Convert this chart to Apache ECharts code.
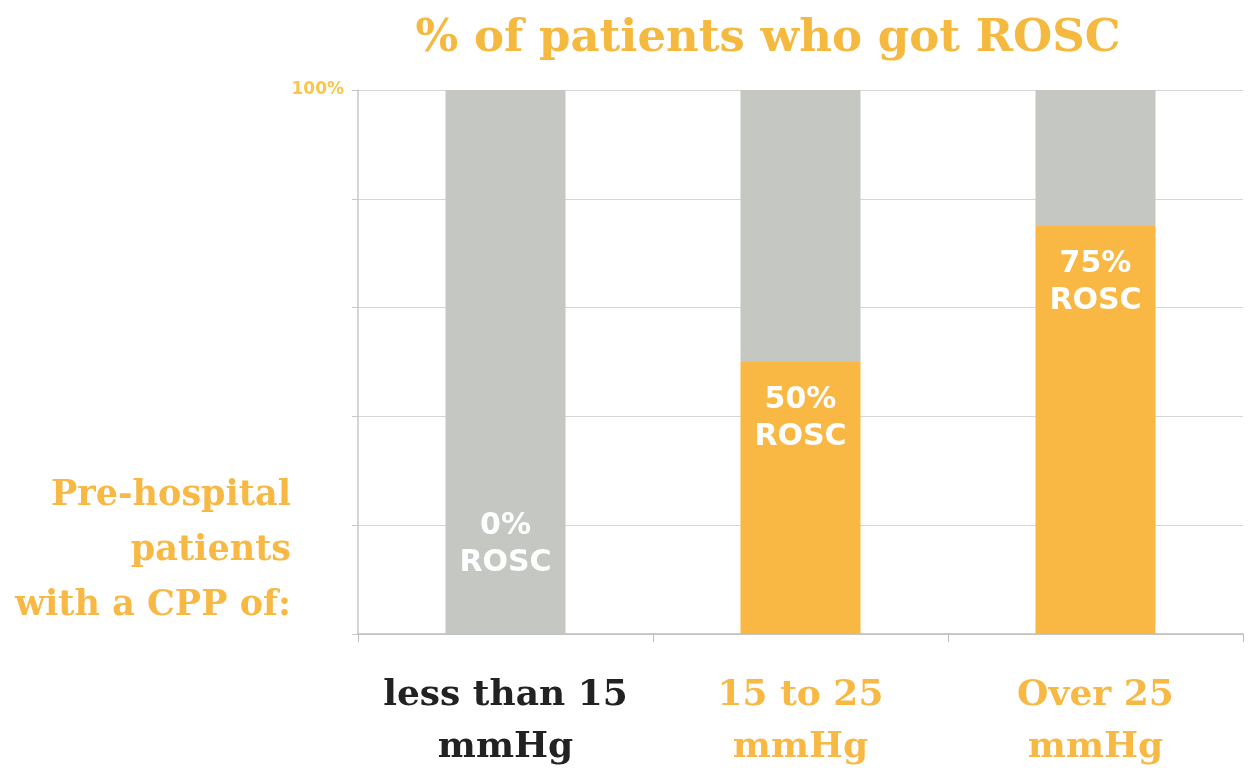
<!DOCTYPE html>
<html>
<head>
<meta charset="utf-8">
<script src="https://cdn.jsdelivr.net/npm/echarts@6/dist/echarts.min.js"></script>
<style>html,body{margin:0;padding:0;background:#fff}#c{width:1249px;height:774px}</style>
</head>
<body>
<div id="c"></div>
<script>
const categories = ['less than 15\nmmHg', '15 to 25\nmmHg', 'Over 25\nmmHg'];
const categoryColors = ['#222222', '#F7B844', '#F7B844'];
const roscValues = [0, 50, 75];
const remainderValues = [100, 50, 25];
const yTickLabels = { 100: '100%' };
const titleText = '% of patients who got ROSC';
const yAxisTitle = 'Pre-hospital\npatients\nwith a CPP of:';

const chart = echarts.init(document.getElementById('c'), null, { renderer: 'canvas' });
const orange = '#F9B744';
const gray = '#C5C7C3';

const option = {
  backgroundColor: '#ffffff',
  animation: false,
  title: {
    text: titleText,
    left: 763,
    top: 12,
    textAlign: 'center',
    textStyle: { fontFamily: 'DejaVu Serif', fontWeight: 'bold', fontSize: 45, color: '#F6B940' }
  },
  graphic: [{
    type: 'text',
    right: 958,
    top: 468,
    style: {
      text: yAxisTitle,
      fontFamily: 'DejaVu Serif', fontWeight: 'bold', fontSize: 35,
      lineHeight: 55, fill: '#F7B844', textAlign: 'right'
    }
  }],
  grid: { left: 358, right: 6, top: 90, bottom: 138 },
  xAxis: {
    type: 'category',
    data: categories.map((c, i) => ({ value: c, textStyle: { color: categoryColors[i] } })),
    axisLine: { lineStyle: { color: '#BDBDBD', width: 1.5 } },
    axisTick: { show: true, interval: 0, length: 8, lineStyle: { color: '#BDBDBD' } },
    axisLabel: {
      interval: 0, margin: 36, fontFamily: 'DejaVu Serif', fontWeight: 'bold', fontSize: 36, lineHeight: 52
    }
  },
  yAxis: {
    type: 'value',
    min: 0, max: 100, interval: 20,
    axisLine: { show: true, lineStyle: { color: '#C8C8C8', width: 1.5 } },
    axisTick: { show: true, length: 6, lineStyle: { color: '#C8C8C8' } },
    splitLine: { lineStyle: { color: '#D6D6D6', width: 1 } },
    axisLabel: {
      formatter: v => yTickLabels[v] || '',
      fontFamily: 'DejaVu Sans', fontWeight: 'bold', fontSize: 17, color: '#F7C64A', margin: 14
    }
  },
  series: [
    {
      name: 'ROSC', type: 'bar', stack: 'a', barWidth: 120,
      itemStyle: { color: orange },
      label: {
        show: true, position: 'insideTop', distance: 20,
        formatter: p => p.value + '%\nROSC',
        fontFamily: 'DejaVu Sans', fontWeight: 'bold', fontSize: 30, lineHeight: 37, color: '#ffffff'
      },
      data: roscValues.map((v, i) => i === 0
        ? { value: v, label: { position: 'top', distance: 52 } }
        : v)
    },
    {
      name: 'No ROSC', type: 'bar', stack: 'a', barWidth: 120,
      itemStyle: { color: gray },
      data: remainderValues
    }
  ]
};
chart.setOption(option);
</script>
</body>
</html>
